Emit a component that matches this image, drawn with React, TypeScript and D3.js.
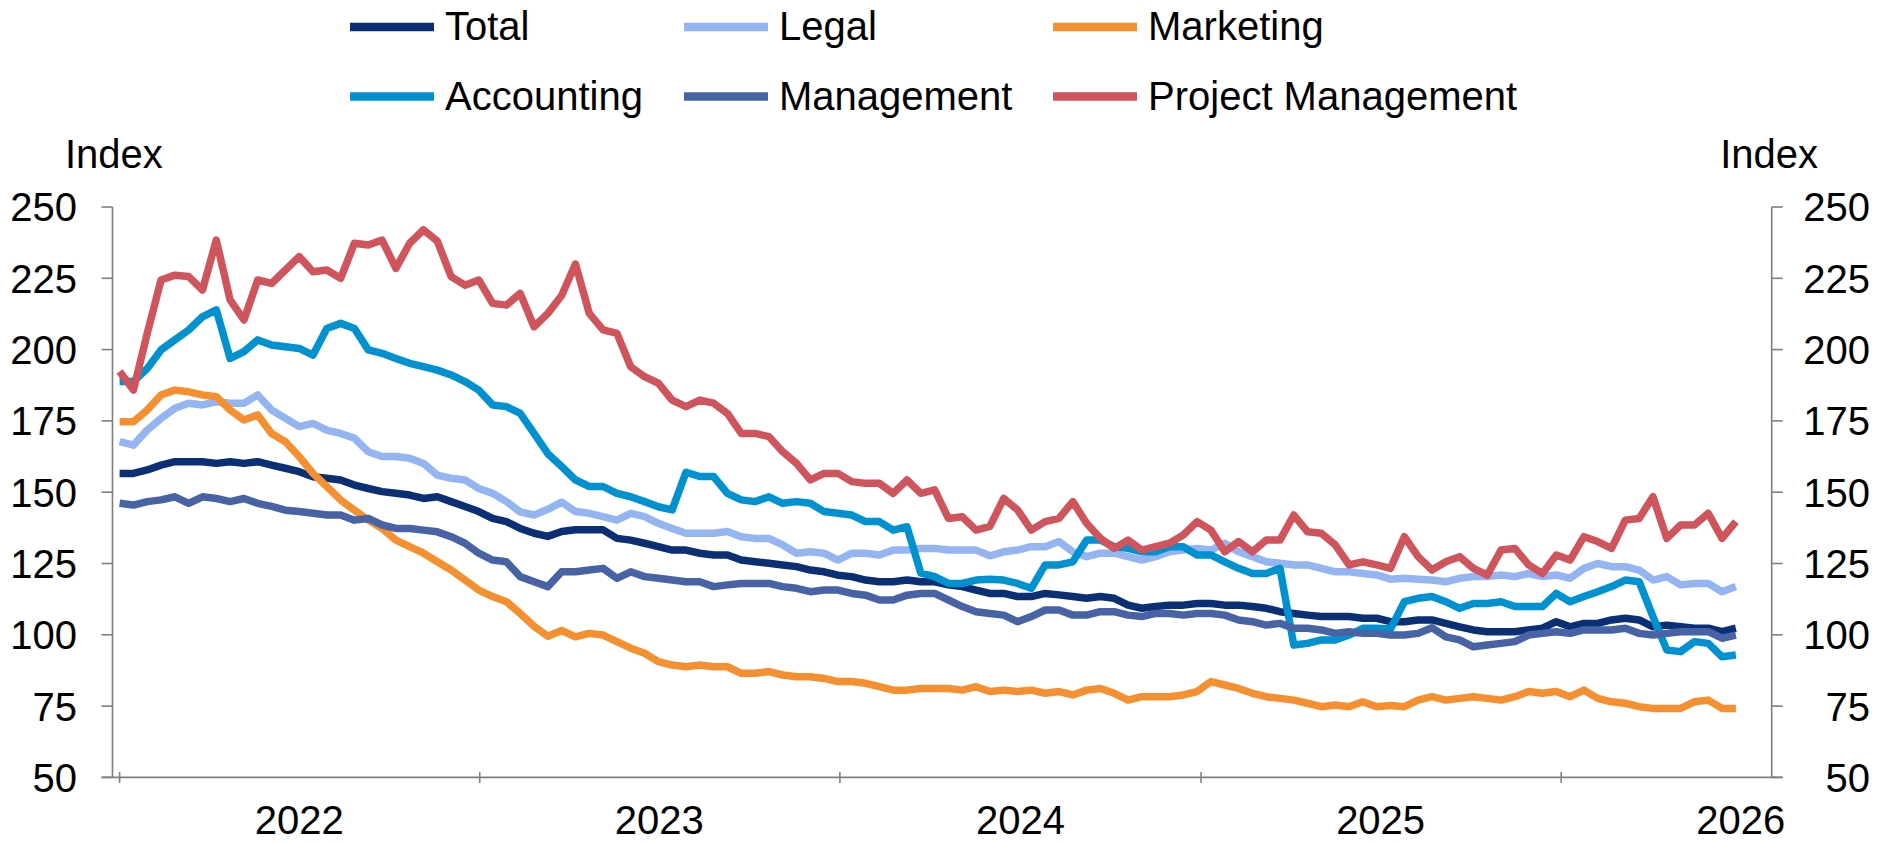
import React from 'react';
import * as d3 from 'd3';

// ---- Data (biweekly observations starting 2022-01-01) ----
const total = [156.6,156.6,157.8,159.5,160.7,160.7,160.7,160.1,160.7,160.1,160.7,159.5,158.4,157.2,155.4,154.9,154.3,152.5,151.3,150.2,149.6,149.0,147.8,148.4,146.7,145.0,143.2,140.8,139.7,137.3,135.6,134.5,136.2,136.8,136.8,136.8,133.8,133.2,132.1,130.9,129.7,129.7,128.6,128.0,128.0,126.2,125.6,125.1,124.5,123.9,122.7,122.1,120.9,120.4,119.2,118.6,118.6,119.2,118.6,118.6,117.5,116.9,115.7,114.5,114.5,113.4,113.4,114.5,114.0,113.4,112.8,113.4,112.8,110.4,109.3,109.9,110.4,110.4,111.0,111.0,110.4,110.4,109.9,109.3,108.1,107.5,106.9,106.4,106.4,106.4,105.8,105.8,104.6,104.6,105.2,105.2,104.0,102.8,101.7,101.1,101.1,101.1,101.7,102.3,104.6,102.8,104.0,104.0,105.2,105.8,105.2,102.8,103.4,102.8,102.3,102.3,101.1,102.3];

const legal = [167.7,166.5,171.8,175.9,179.4,181.2,180.6,181.7,181.2,181.2,184.1,178.8,175.9,173.0,174.1,171.8,170.6,168.9,164.2,162.5,162.5,161.9,160.1,156.0,154.9,154.3,151.3,149.6,146.7,143.1,142.0,144.0,146.5,143.2,142.6,141.4,140.2,142.6,141.4,139.1,137.3,135.6,135.6,135.6,136.2,134.4,133.8,133.8,131.5,128.6,129.1,128.6,126.2,128.6,128.6,128.0,129.7,129.7,130.3,130.3,129.7,129.7,129.7,127.7,129.1,129.7,130.9,130.9,132.7,129.1,127.4,128.6,128.6,127.4,126.2,127.4,129.1,129.7,130.3,129.7,132.1,129.1,127.4,125.6,125.1,124.5,124.5,123.3,122.1,122.1,121.5,121.0,119.5,119.8,119.5,119.2,118.6,119.8,120.4,120.4,121.0,120.4,121.5,120.4,121.0,119.8,123.3,125.0,123.9,123.9,122.7,119.2,120.4,117.5,118.0,118.0,115.1,116.9];

const marketing = [174.7,174.7,178.8,184.1,185.8,185.2,184.1,183.5,178.8,175.3,177.1,170.6,167.7,162.5,156.6,152.0,147.3,143.7,140.2,137.3,133.2,130.9,128.6,125.6,122.7,119.2,115.7,113.4,111.6,107.5,103.0,99.5,101.5,99.3,100.5,99.9,97.6,95.3,93.5,90.6,89.4,88.8,89.4,88.8,88.8,86.5,86.5,87.1,85.9,85.3,85.3,84.7,83.6,83.6,83.0,81.8,80.6,80.6,81.2,81.2,81.2,80.6,81.8,80.1,80.6,80.1,80.6,79.5,80.1,78.9,80.6,81.2,79.5,77.1,78.3,78.3,78.3,78.9,80.1,83.6,82.4,81.2,79.5,78.3,77.7,77.1,76.0,74.8,75.4,74.8,76.5,74.8,75.2,74.8,77.1,78.3,77.1,77.7,78.3,77.7,77.1,78.3,80.1,79.5,80.1,78.3,80.6,77.7,76.5,76.0,74.8,74.2,74.2,74.2,76.5,77.1,74.2,74.2];

const accounting = [188.8,188.8,193.4,199.9,203.4,206.9,211.5,213.9,196.9,199.3,203.4,201.6,201.0,200.4,198.1,207.4,209.2,207.4,199.9,198.7,196.9,195.2,194.0,192.8,191.1,188.8,185.8,180.6,180.0,177.6,170.6,163.5,159.0,154.3,152.0,152.0,149.6,148.4,146.7,144.9,143.8,157.0,155.5,155.5,149.6,147.3,146.7,148.4,146.1,146.7,146.1,143.2,142.6,142.0,139.7,139.7,136.7,137.9,121.6,120.4,118.0,118.0,119.2,119.5,119.2,118.0,116.3,124.5,124.5,125.6,133.2,133.2,130.9,130.3,129.1,129.1,130.9,130.9,128.0,128.0,125.6,123.3,121.5,121.5,123.3,96.4,97.0,98.2,98.2,99.9,102.3,102.3,102.0,111.6,112.8,113.4,111.6,109.3,111.0,111.0,111.6,109.9,109.9,109.9,114.5,111.6,113.4,115.1,116.9,119.2,118.6,106.4,94.7,94.1,97.6,97.0,92.3,92.9];

const management = [146.1,145.5,146.7,147.3,148.4,146.1,148.4,147.8,146.7,147.8,146.1,145.0,143.7,143.2,142.6,142.0,142.0,140.2,140.8,138.5,137.3,137.3,136.7,136.1,134.4,132.1,128.6,126.2,125.6,120.4,118.6,116.9,122.1,122.1,122.7,123.3,119.8,122.1,120.4,119.8,119.2,118.6,118.6,116.9,117.5,118.0,118.0,118.0,116.9,116.3,115.1,115.7,115.7,114.5,113.9,112.2,112.2,113.9,114.5,114.5,112.2,109.9,108.1,107.5,106.9,104.6,106.4,108.7,108.7,106.9,106.9,108.1,108.1,106.9,106.4,107.5,107.5,106.9,107.5,107.5,106.9,105.2,104.6,103.4,104.0,102.3,102.3,101.7,100.5,101.1,100.5,100.5,99.9,99.9,100.5,102.5,99.3,98.2,95.8,96.4,97.0,97.6,99.9,100.5,101.1,100.5,101.7,101.7,101.7,102.3,100.5,99.9,100.5,101.1,101.1,101.1,98.8,99.9];

const projectManagement = [192.3,185.8,205.7,224.4,226.1,225.6,220.9,238.4,217.4,210.4,224.4,223.2,227.9,232.6,227.3,227.9,225.0,237.3,236.7,238.4,228.5,237.3,242.0,238.0,225.6,222.6,224.4,216.2,215.6,219.7,208.0,212.7,219.0,230.0,212.7,206.9,205.7,194.0,190.5,188.2,182.3,180.0,182.3,181.2,177.6,170.6,170.6,169.5,164.2,160.1,154.3,156.6,156.6,153.7,153.1,153.1,149.6,154.3,149.6,150.8,140.8,141.4,136.7,138.0,147.8,143.8,136.7,139.7,140.8,146.7,139.1,133.8,130.3,133.2,129.7,130.9,132.1,135.0,139.7,136.7,129.1,132.7,129.1,133.2,133.2,142.0,136.1,135.6,131.5,124.5,125.6,124.5,123.3,134.4,127.4,122.7,125.6,127.4,123.3,120.9,129.7,130.3,124.5,121.5,128.0,126.2,134.4,132.7,130.3,140.2,140.8,148.4,133.8,138.5,138.5,142.6,133.8,139.7];

const seriesNames = ['Total', 'Legal', 'Marketing', 'Accounting', 'Management', 'Project Management'];
const seriesColors = ['#0a2f74', '#94b5f2', '#f58f2f', '#0092d0', '#4863a5', '#cf545c'];
const seriesValues = [total, legal, marketing, accounting, management, projectManagement];

const yTicks = [50, 75, 100, 125, 150, 175, 200, 225, 250];
const yearLabels = [2022, 2023, 2024, 2025, 2026];
const startDate = new Date(2022, 0, 1);
const dates = total.map((_, i) => d3.timeDay.offset(startDate, 14 * i));

// ---- Layout ----
const W = 1891;
const H = 843;
const plotLeft = 112.5;
const plotRight = 1771.7;
const plotTop = 207;
const plotBottom = 777.4;
const FONT = 'Liberation Sans, Arial, Helvetica, sans-serif';
const FS = 40;
const axisColor = '#7f7f7f';

const x = d3.scaleTime()
  .domain([new Date(2022, 0, 1), new Date(2026, 0, 1)])
  .range([119.6, 1561.2]);
const y = d3.scaleLinear().domain([50, 250]).range([plotBottom, plotTop]);

const legendCols = [350, 684, 1053];
const legendRows = [27, 96.5];

export default function App() {
  const line = d3.line<number>()
    .x((_, i) => x(dates[i]))
    .y((d) => y(d));

  const yearTicks = yearLabels.map((yr) => new Date(yr, 0, 1));
  const yearMid = yearLabels.map((yr) => new Date(yr, 6, 2));

  return (
    <svg
      width={W}
      height={H}
      style={{ position: 'fixed', left: 0, top: 0, background: '#fff' }}
      fontFamily={FONT}
    >
      <rect x={0} y={0} width={W} height={H} fill="#fff" />

      {/* Legend */}
      {seriesNames.map((name, k) => {
        const col = k % 3;
        const row = Math.floor(k / 3);
        const lx = legendCols[col];
        const ly = legendRows[row];
        return (
          <g key={name}>
            <line x1={lx} x2={lx + 84} y1={ly} y2={ly} stroke={seriesColors[k]} strokeWidth={8.5} />
            <text x={lx + 95} y={ly + 13} fontSize={FS} fill="#000">{name}</text>
          </g>
        );
      })}

      {/* Axis titles */}
      <text x={65} y={168} fontSize={FS} fill="#000">Index</text>
      <text x={1818} y={168} fontSize={FS} fill="#000" textAnchor="end">Index</text>

      {/* Axes */}
      <g stroke={axisColor} strokeWidth={1.6} fill="none">
        <line x1={plotLeft} x2={plotLeft} y1={plotTop} y2={plotBottom} />
        <line x1={plotRight} x2={plotRight} y1={plotTop} y2={plotBottom} />
        <line x1={plotLeft - 11} x2={plotRight + 11} y1={plotBottom} y2={plotBottom} />
        {yTicks.map((t) => (
          <g key={t}>
            <line x1={plotLeft - 11} x2={plotLeft} y1={y(t)} y2={y(t)} />
            <line x1={plotRight} x2={plotRight + 11} y1={y(t)} y2={y(t)} />
          </g>
        ))}
        {yearTicks.map((d, i) => (
          <line key={i} x1={x(d)} x2={x(d)} y1={plotBottom - 5.5} y2={plotBottom + 5.5} />
        ))}
      </g>

      {/* Y labels */}
      {yTicks.map((t) => (
        <g key={t}>
          <text x={77} y={y(t)} dy="0.36em" fontSize={FS} textAnchor="end" fill="#000">{t}</text>
          <text x={1870} y={y(t)} dy="0.36em" fontSize={FS} textAnchor="end" fill="#000">{t}</text>
        </g>
      ))}

      {/* Year labels */}
      {yearMid.map((d, i) => (
        <text key={i} x={x(d)} y={834} fontSize={FS} textAnchor="middle" fill="#000">{yearLabels[i]}</text>
      ))}

      {/* Series */}
      {seriesValues.map((vals, k) => (
        <path
          key={seriesNames[k]}
          d={line(vals) || ''}
          fill="none"
          stroke={seriesColors[k]}
          strokeWidth={7.5}
          strokeLinejoin="round"
        />
      ))}
    </svg>
  );
}
